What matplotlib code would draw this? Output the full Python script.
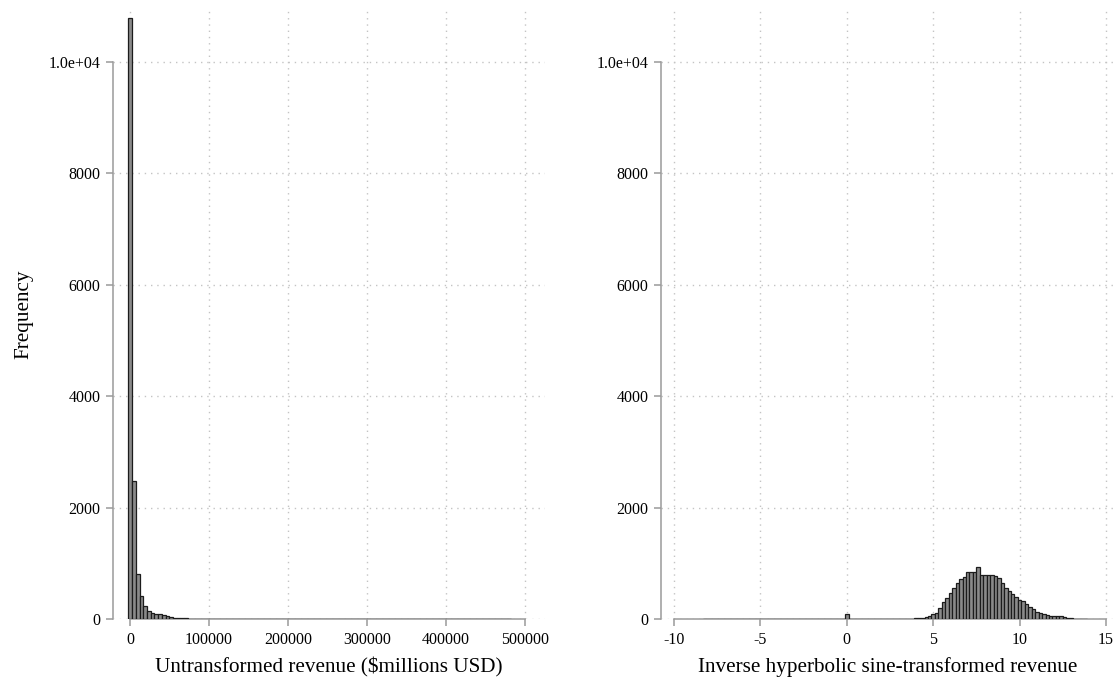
import numpy as np
import matplotlib
matplotlib.use("Agg")
import matplotlib.pyplot as plt

plt.rcParams["font.family"] = ["Liberation Serif", "DejaVu Serif"]
plt.rcParams["axes.unicode_minus"] = False

# ---- Untransformed revenue histogram ($millions USD) ----
rev_bin_start = -2000.0
rev_bin_width = 4700.0
rev_n_bins = 103
# counts for the first 43 bins
rev_head_counts = [10790, 2480, 805, 420, 225, 150, 100, 85, 85, 72,
                   45, 30, 24, 18, 12, 10, 8, 7, 6, 5,
                   5, 4, 4, 4, 3, 3, 3, 3, 2, 2,
                   2, 2, 2, 2, 2, 2, 1, 1, 2, 1,
                   1, 1, 1]
# sparse upper tail: bin index -> count
rev_tail_bins = [43, 44, 45, 46, 48, 49, 50, 51, 54, 59, 73, 78, 83,
                 86, 87, 88, 89, 90, 92, 95, 99, 100, 101, 102]
rev_tail_counts = [2, 1, 2, 1, 2, 1, 2, 1, 1, 1, 1, 1, 1,
                   2, 1, 1, 1, 1, 1, 1, 1, 1, 1, 1]

# ---- Inverse hyperbolic sine of revenue histogram ----
ihs_bin_start = -8.3
ihs_bin_width = 0.2
ihs_neg_counts = [6, 8, 6, 3, 0, 0, 4, 0, 0, 0, 0, 0, 4,
                  0, 0, 0, 0, 0, 0, 0, 0, 0, 0, 0, 0, 0, 0,
                  0, 0, 0, 0, 0, 0, 0, 0, 0, 0, 0, 0, 0, 0]
ihs_zero_count = [95]
ihs_pos_counts = [8, 6, 5, 5, 6, 5, 4, 5, 6, 5, 6, 7, 6, 7, 8,
                  6, 6, 7, 8, 10, 14, 20, 30, 54, 90,
                  114, 190, 310, 370, 460, 560, 650, 710, 760, 840,
                  850, 840, 940, 790, 790, 790, 790, 780, 730, 650,
                  550, 505, 455, 400, 350, 320, 275, 220, 175, 130,
                  112, 95, 70, 60, 58, 54, 45, 32, 18, 10,
                  7, 5, 4, 2]

y_ticks = [0, 2000, 4000, 6000, 8000, 10000]
y_tick_labels = ["0", "2000", "4000", "6000", "8000", "1.0e+04"]
rev_x_ticks = [0, 100000, 200000, 300000, 400000, 500000]
ihs_x_ticks = [-10, -5, 0, 5, 10, 15]

rev_counts = np.zeros(rev_n_bins)
rev_counts[:len(rev_head_counts)] = rev_head_counts
rev_counts[rev_tail_bins] = rev_tail_counts
rev_edges = rev_bin_start + rev_bin_width * np.arange(rev_n_bins + 1)

ihs_counts = np.array(ihs_neg_counts + ihs_zero_count + ihs_pos_counts, dtype=float)
ihs_edges = ihs_bin_start + ihs_bin_width * np.arange(len(ihs_counts) + 1)

W, H = 1118, 684
fig = plt.figure(figsize=(W / 100, H / 100), dpi=100)


def px_axes(x0, x1, y0, y1):
    return fig.add_axes([x0 / W, 1 - y1 / H, (x1 - x0) / W, (y1 - y0) / H])


axis_grey = "#9a9a9a"
grid_grey = "#c4c4c4"
bar_face = "#8a8a8a"
bar_edge = "#1c1c1c"


def style(ax, xticks, xbounds):
    for s in ("top", "right"):
        ax.spines[s].set_visible(False)
    for s in ("left", "bottom"):
        ax.spines[s].set_color(axis_grey)
        ax.spines[s].set_linewidth(1.1)
    ax.spines["left"].set_bounds(0, 10000)
    ax.spines["bottom"].set_bounds(*xbounds)
    ax.set_yticks(y_ticks)
    ax.set_yticklabels(y_tick_labels)
    ax.set_xticks(xticks)
    ax.tick_params(axis="both", direction="out", length=5, width=1.1,
                   color=axis_grey, labelsize=11.5, labelcolor="black", pad=4)
    ax.grid(True, linestyle=(0, (1, 3.5)), color=grid_grey, linewidth=1.0)
    ax.set_axisbelow(True)
    ax.set_ylim(0, 10950)


# left panel
ax1 = px_axes(113, 545, 9, 619)
ax1.hist(rev_edges[:-1], bins=rev_edges, weights=rev_counts,
         facecolor=bar_face, edgecolor=bar_edge, linewidth=0.9, zorder=3)
ax1.set_xlim(-21500, 525500)
style(ax1, rev_x_ticks, (0, 500000))
ax1.set_xticklabels([str(v) for v in rev_x_ticks])
ax1.set_xlabel("Untransformed revenue ($millions USD)", fontsize=15.2, labelpad=7)
ax1.set_ylabel("Frequency", fontsize=15.2, labelpad=11)

# right panel
ax2 = px_axes(661, 1115, 9, 619)
ax2.hist(ihs_edges[:-1], bins=ihs_edges, weights=ihs_counts,
         facecolor=bar_face, edgecolor=bar_edge, linewidth=0.9, zorder=3)
ax2.set_xlim(-10.75, 15.52)
style(ax2, ihs_x_ticks, (-10, 15))
ax2.set_xlabel("Inverse hyperbolic sine-transformed revenue", fontsize=15.2, labelpad=7)

fig.savefig("out.png", dpi=100, facecolor="white")
